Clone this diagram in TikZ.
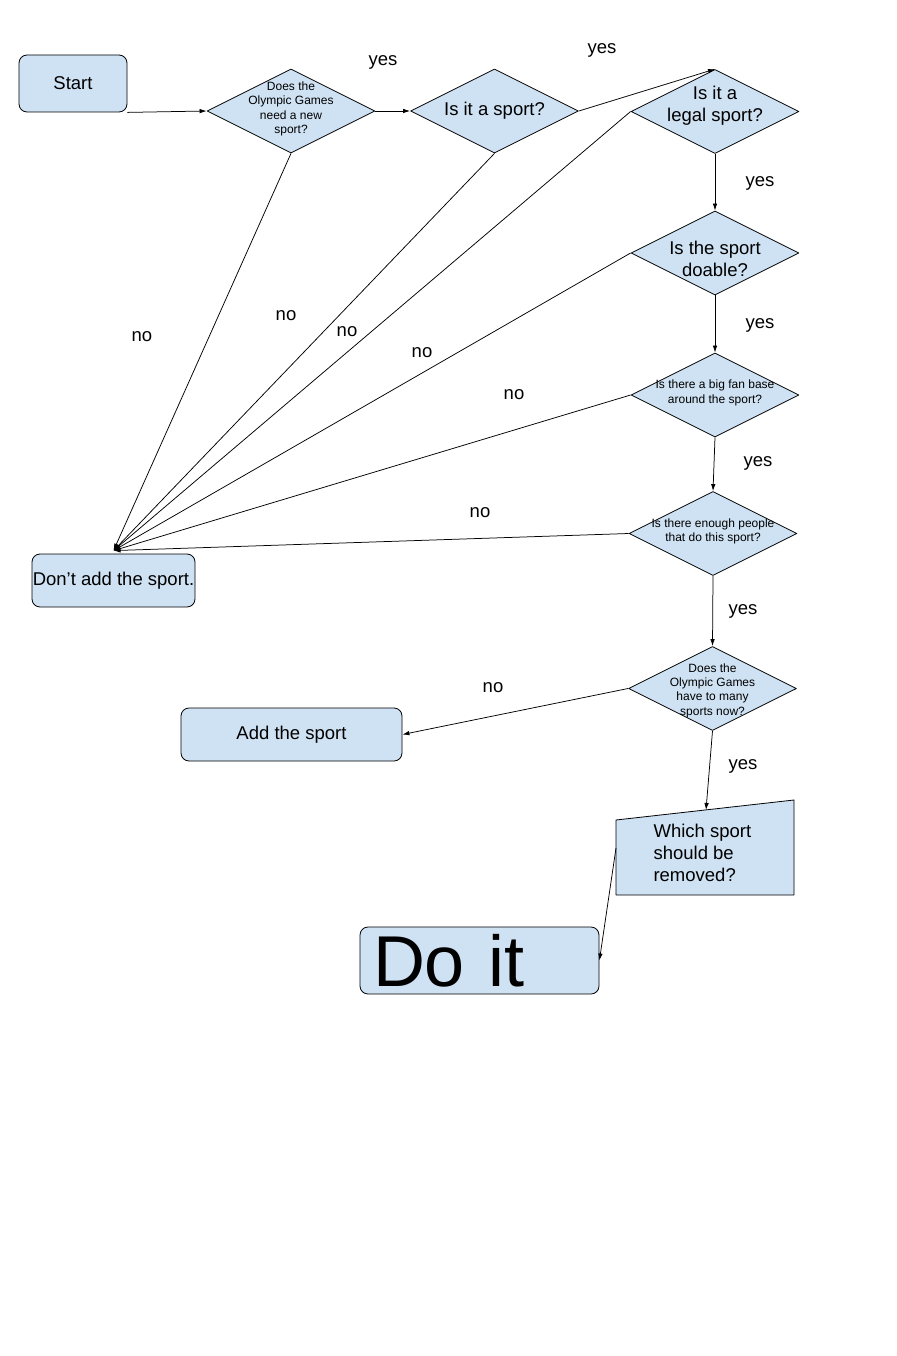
\documentclass[tikz,border=0pt]{standalone}
\usepackage{fontspec}
\setmainfont{Liberation Sans}
\usetikzlibrary{shapes.geometric}
\usetikzlibrary{arrows.meta}
\definecolor{boxblue}{HTML}{CFE2F3}
\tikzset{l/.style={font=\fontsize{18.5}{22}\selectfont}}
\tikzset{s/.style={font=\fontsize{12}{14.3}\selectfont}}
\tikzset{box/.style={draw,fill=boxblue,rounded corners=8pt,line width=0.8pt,inner sep=0pt}}
\tikzset{dia/.style={diamond,draw,fill=boxblue,line width=0.8pt,inner sep=0pt,minimum width=168pt,minimum height=84pt}}
\tikzset{ar/.style={-{Latex[length=7pt,width=4.5pt]},line width=0.75pt}}

\begin{document}
\begin{tikzpicture}[x=1pt,y=-1pt,line join=round]
            \useasboundingbox (0,0) rectangle (896,1356);
            % boxes
            \node[box,l,minimum width=108pt,minimum height=57pt] (start) at (73,83.5) {Start};
            \node[box,l,minimum width=163pt,minimum height=53pt] (dont) at (113.5,580.5) {Don’t add the sport.};
            \node[box,l,minimum width=221pt,minimum height=53pt] (add) at (291.5,734.5) {Add the sport};
            \node[box,font=\fontsize{72}{72}\selectfont,text width=213pt,inner xsep=13pt,minimum height=67pt,align=left] (doit) at (479.5,960.5) {Do it};
            % diamonds
            \node[dia] (d1) at (291,111) {};
            \node[dia] (d2) at (494.5,111) {};
            \node[dia] (d3) at (715,111.5) {};
            \node[dia] (d4) at (715,253) {};
            \node[dia] (d5) at (715,395) {};
            \node[dia] (d6) at (713,533.5) {};
            \node[dia] (d7) at (712.5,688.5) {};
            \node[s,align=center] (t1) at ([yshift=2pt]d1) {Does the\\Olympic Games\\need a new\\sport?};
            \node[l,align=center] (t2) at (d2) {Is it a sport?};
            \node[l,align=center] (t3) at ([yshift=6pt]d3) {Is it a\\legal sport?};
            \node[l,align=center] (t4) at ([yshift=-6pt]d4) {Is the sport\\doable?};
            \node[s,align=center] (t5) at ([yshift=2pt]d5) {Is there a big fan base\\around the sport?};
            \node[s,align=center] (t6) at ([yshift=2pt]d6) {Is there enough people\\that do this sport?};
            \node[s,align=center] (t7) at ([yshift=-2pt]d7) {Does the\\Olympic Games\\have to many\\sports now?};
            % slanted input box
            \filldraw[fill=boxblue,line width=0.8pt] (616,820)--(794,800)--(794,895)--(616,895)--cycle;
            \coordinate (rmtop) at (706,810);
            \coordinate (rmleft) at (616,848);
            \node[l,align=left,anchor=west] (rm) at (650,853) {Which sport\\should be\\removed?};
            % arrows
            \draw[ar] (start.south east) -- (d1.west);
            \draw[ar] (d1.east) -- (d2.west);
            \draw[ar] (d2.east) -- (d3.north);
            \draw[ar] (d3.south) -- (d4.north);
            \draw[ar] (d4.south) -- (d5.north);
            \draw[ar] (d5.south) -- (d6.north);
            \draw[ar] (d6.south) -- (d7.north);
            \draw[ar] (d7.south) -- (rmtop);
            \draw[ar] (d7.west) -- (add.east);
            \draw[ar] (rmleft) -- (doit.east);
            \foreach \n in {d1.south,d2.south,d3.west,d4.west,d5.west,d6.west}
              \draw[ar] (\n) -- ([yshift=3pt]dont.north);
            % labels
            \node[l] (y1) at (383,62) {yes};
            \node[l] (y2) at (602,50) {yes};
            \node[l] (y3) at (760,183) {yes};
            \node[l] (y4) at (760,325) {yes};
            \node[l] (y5) at (758,463) {yes};
            \node[l] (y6) at (743,611) {yes};
            \node[l] (y7) at (743,766) {yes};
            \node[l] (n1) at (142,337) {no};
            \node[l] (n2) at (286,316) {no};
            \node[l] (n3) at (347,332) {no};
            \node[l] (n4) at (422,353) {no};
            \node[l] (n5) at (514,395) {no};
            \node[l] (n6) at (480,513) {no};
            \node[l] (n7) at (493,688) {no};
          \end{tikzpicture}
\end{document}
